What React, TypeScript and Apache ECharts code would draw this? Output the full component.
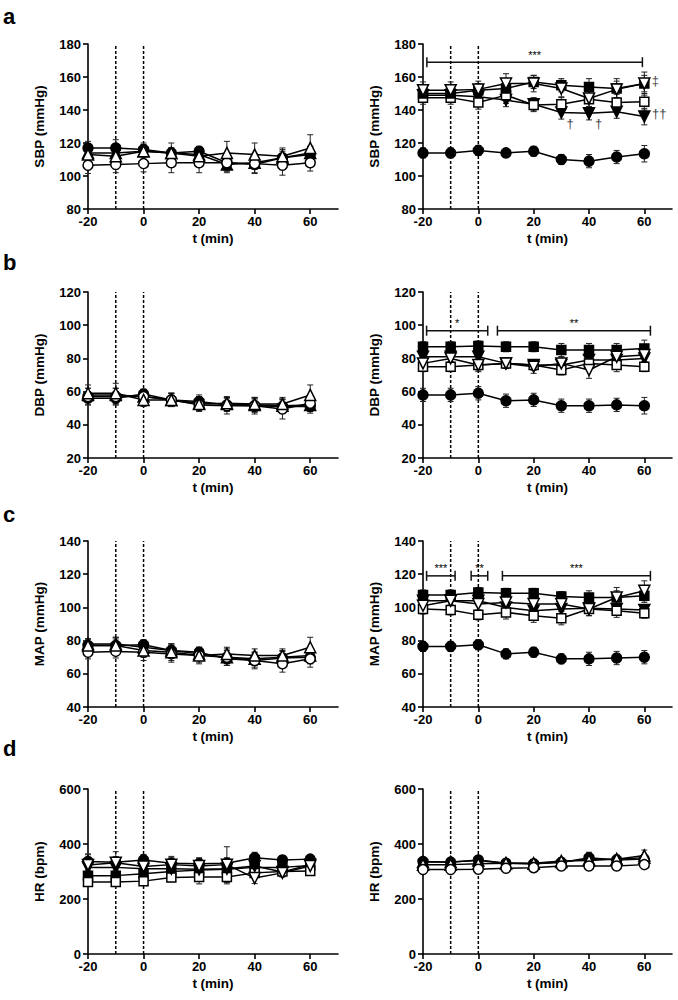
import React, { useEffect, useRef } from "react";
import * as echarts from "echarts";

const T = [-20, -10, 0, 10, 20, 30, 40, 50, 60];
const X_TICKS = [-20, 0, 20, 40, 60];
const MARKER_LINES = [-10, 0];

// a – SBP, left
const aL_fc = [117, 117, 116, 114, 115, 108, 107, 111, 113];
const aL_fcErr = [4, 5, 4, 3, 3, 5, 5, 5, 5];
const aL_oc = [106.5, 107, 107.5, 108, 108, 108, 107.5, 106.5, 108];
const aL_ocErr = [5, 5, 5, 6, 6, 6, 6, 6, 5];
const aL_ft = [114, 114, 115, 114, 113, 107, 108, 111, 114];
const aL_ftErr = [4, 4, 3, 3, 3, 4, 4, 4, 4];
const aL_ot = [113, 112, 115, 114, 112, 114, 113, 112, 117];
const aL_otErr = [5, 6, 4, 6, 3, 7, 7, 5, 8];
// a – SBP, right
const aR_fc = [114, 114, 115.5, 114, 115, 110, 109, 111.5, 113.5];
const aR_fcErr = [3, 3, 3, 2, 3, 3, 4, 4, 5];
const aR_fs = [150, 150, 152, 153, 157, 155, 154, 153, 156];
const aR_fsErr = [4, 4, 4, 4, 4, 4, 5, 6, 5];
const aR_os = [147.5, 147.5, 144.5, 149, 143, 143.5, 146.5, 144.5, 145];
const aR_osErr = [4, 4, 4, 5, 4, 4, 5, 5, 5];
const aR_fdt = [149, 149, 148, 146, 143.5, 138.5, 138, 139, 136];
const aR_fdtErr = [4, 4, 4, 4, 4, 4, 4, 4, 5];
const aR_odt = [152, 152, 152.5, 156, 156, 153, 147, 152.5, 156];
const aR_odtErr = [5, 5, 5, 6, 5, 5, 5, 5, 7];

// b – DBP, left
const bL_fc = [56, 56, 58.5, 55, 54, 52, 51.5, 51, 51];
const bL_fcErr = [4, 4, 3, 4, 4, 4, 4, 4, 4];
const bL_oc = [57, 57, 57, 55, 52, 51.5, 51.5, 49.5, 53];
const bL_ocErr = [5, 5, 4, 4, 4, 5, 5, 6, 4];
const bL_ft = [58, 58, 57, 55, 53, 52.5, 52, 51.5, 52];
const bL_ftErr = [4, 4, 4, 4, 4, 4, 4, 4, 4];
const bL_ot = [59, 59, 55, 55, 52.5, 53, 52.5, 52.5, 58];
const bL_otErr = [5, 6, 4, 4, 4, 4, 4, 4, 6];
// b – DBP, right
const bR_fc = [58, 58, 59, 54.5, 55, 51.5, 51.5, 52, 51.5];
const bR_fcErr = [4, 4, 4, 4, 4, 4, 4, 4, 5];
const bR_fs = [87, 87, 87.5, 87, 87, 85, 85, 85, 86];
const bR_fsErr = [3, 3, 3, 3, 3, 4, 4, 4, 5];
const bR_os = [75, 75, 76, 77, 76, 73, 77, 76, 75];
const bR_osErr = [3, 3, 3, 3, 3, 3, 4, 4, 3];
const bR_fdt = [81, 81, 81, 77, 76, 76, 79, 79, 80];
const bR_fdtErr = [3, 3, 3, 3, 3, 3, 3, 3, 3];
const bR_odt = [77, 80, 76, 77, 75, 77, 73, 81, 82];
const bR_odtErr = [4, 4, 4, 3, 4, 4, 5, 4, 4];

// c – MAP, left
const cL_fc = [77, 77, 77.5, 74, 73, 69, 68, 69.5, 70];
const cL_fcErr = [4, 4, 3, 4, 3, 4, 4, 4, 4];
const cL_oc = [73, 73.5, 73, 72, 71, 70, 68, 66, 69];
const cL_ocErr = [4, 4, 5, 5, 5, 5, 5, 5, 5];
const cL_ft = [78, 78, 76, 74, 72, 70, 69, 70, 71];
const cL_ftErr = [3, 4, 3, 4, 3, 4, 4, 4, 4];
const cL_ot = [77, 77, 74, 73, 71, 72, 71, 71, 76];
const cL_otErr = [4, 5, 4, 5, 4, 4, 4, 4, 6];
// c – MAP, right
const cR_fc = [76.5, 76.5, 77.5, 72, 73, 69, 69, 69.5, 70];
const cR_fcErr = [3, 3, 3, 3, 3, 3, 4, 4, 4];
const cR_fs = [107.5, 107.5, 109, 108.5, 108.5, 106.5, 106, 106, 107];
const cR_fsErr = [3, 3, 3, 3, 3, 3, 4, 4, 4];
const cR_os = [99, 98.5, 95.5, 97, 95, 93.5, 99, 98, 96.5];
const cR_osErr = [3, 3, 3, 4, 4, 4, 4, 4, 3];
const cR_fdt = [104, 104, 104, 100, 98, 99, 99.5, 99, 98.5];
const cR_fdtErr = [3, 3, 3, 3, 3, 3, 3, 3, 3];
const cR_odt = [101, 104, 102, 103, 102, 102, 99, 106, 110];
const cR_odtErr = [3, 3, 4, 4, 4, 4, 4, 6, 6];

// d – HR, left
const dL_fc = [336, 334, 342, 330, 328, 330, 350, 342, 345];
const dL_fcErr = [25, 20, 20, 20, 20, 20, 20, 15, 10];
const dL_fs = [285, 285, 292, 300, 305, 308, 315, 315, 322];
const dL_fsErr = [20, 20, 20, 15, 15, 15, 20, 15, 15];
const dL_os = [262, 262, 265, 278, 280, 280, 295, 300, 302];
const dL_osErr = [15, 15, 15, 15, 25, 25, 20, 15, 15];
const dL_fdt = [315, 315, 310, 310, 308, 310, 320, 298, 325];
const dL_fdtErr = [15, 15, 15, 15, 15, 15, 15, 15, 15];
const dL_odt = [324, 332, 318, 325, 320, 325, 276, 295, 320];
const dL_odtErr = [40, 40, 20, 30, 30, 65, 20, 15, 15];
// d – HR, right
const dR_fc = [336, 334, 342, 330, 328, 333, 350, 342, 345];
const dR_fcErr = [10, 10, 12, 10, 10, 10, 20, 12, 10];
const dR_oc = [307, 307, 308, 312, 314, 320, 320, 320, 325];
const dR_ocErr = [10, 10, 10, 10, 10, 10, 10, 10, 10];
const dR_ot = [325, 325, 328, 330, 330, 338, 340, 345, 358];
const dR_otErr = [10, 10, 10, 10, 10, 12, 15, 15, 20];
const dR_ft = [335, 335, 340, 330, 328, 335, 345, 345, 350];
const dR_ftErr = [10, 10, 10, 10, 10, 10, 10, 10, 10];

// significance brackets: [from, to, level]
const aR_brackets = [[-18.6, 59.3, 169]];
const aR_bracketLabels = ["***"];
const bR_brackets = [[-18.7, 3.4, 96.7], [6.9, 62.2, 96.7]];
const bR_bracketLabels = ["*", "**"];
const cR_brackets = [[-18.7, -8.4, 119], [-2.6, 3.4, 119], [8.7, 62.2, 119]];
const cR_bracketLabels = ["***", "**", "***"];
// daggers in a right
const aR_marks = [[64, 157.7], [65.4, 137.6], [33.2, 131.6], [43.5, 131.6]];
const aR_markLabels = ["‡", "††", "†", "†"];

const FONT = '"Liberation Sans", Arial, sans-serif';

type Ser = { d: number[]; e: number[]; sym: string; filled: boolean; rot?: number; size?: number };
const FC = (d: number[], e: number[]): Ser => ({ d, e, sym: "circle", filled: true, size: 10 });
const OC = (d: number[], e: number[]): Ser => ({ d, e, sym: "circle", filled: false, size: 10 });
const FT = (d: number[], e: number[]): Ser => ({ d, e, sym: "triangle", filled: true, size: 11 });
const OT = (d: number[], e: number[]): Ser => ({ d, e, sym: "triangle", filled: false, size: 11 });
const FS = (d: number[], e: number[]): Ser => ({ d, e, sym: "rect", filled: true, size: 9 });
const OS = (d: number[], e: number[]): Ser => ({ d, e, sym: "rect", filled: false, size: 9 });
const FDT = (d: number[], e: number[]): Ser => ({ d, e, sym: "triangle", filled: true, rot: 180, size: 11 });
const ODT = (d: number[], e: number[]): Ser => ({ d, e, sym: "triangle", filled: false, rot: 180, size: 11 });

const rows = [
  { top: 44, h: 165, min: 80, max: 180, int: 20, name: "SBP (mmHg)", letter: "a", letterTop: 5 },
  { top: 292, h: 166, min: 20, max: 120, int: 20, name: "DBP (mmHg)", letter: "b", letterTop: 251 },
  { top: 541, h: 166, min: 40, max: 140, int: 20, name: "MAP (mmHg)", letter: "c", letterTop: 503 },
  { top: 789, h: 165, min: 0, max: 600, int: 200, name: "HR (bpm)", letter: "d", letterTop: 737 },
];
const cols = [
  { left: 88, w: 250 },
  { left: 423, w: 249 },
];

const panels: { series: Ser[]; brackets?: number[][]; bLabels?: string[]; marks?: number[][]; mLabels?: string[] }[] = [
  { series: [FC(aL_fc, aL_fcErr), FT(aL_ft, aL_ftErr), OC(aL_oc, aL_ocErr), OT(aL_ot, aL_otErr)] },
  {
    series: [FC(aR_fc, aR_fcErr), FDT(aR_fdt, aR_fdtErr), OS(aR_os, aR_osErr), FS(aR_fs, aR_fsErr), ODT(aR_odt, aR_odtErr)],
    brackets: aR_brackets, bLabels: aR_bracketLabels, marks: aR_marks, mLabels: aR_markLabels,
  },
  { series: [FC(bL_fc, bL_fcErr), FT(bL_ft, bL_ftErr), OC(bL_oc, bL_ocErr), OT(bL_ot, bL_otErr)] },
  {
    series: [FC(bR_fc, bR_fcErr), FDT(bR_fdt, bR_fdtErr), OS(bR_os, bR_osErr), FS(bR_fs, bR_fsErr), ODT(bR_odt, bR_odtErr)],
    brackets: bR_brackets, bLabels: bR_bracketLabels,
  },
  { series: [FC(cL_fc, cL_fcErr), FT(cL_ft, cL_ftErr), OC(cL_oc, cL_ocErr), OT(cL_ot, cL_otErr)] },
  {
    series: [FC(cR_fc, cR_fcErr), FDT(cR_fdt, cR_fdtErr), OS(cR_os, cR_osErr), FS(cR_fs, cR_fsErr), ODT(cR_odt, cR_odtErr)],
    brackets: cR_brackets, bLabels: cR_bracketLabels,
  },
  { series: [FC(dL_fc, dL_fcErr), FS(dL_fs, dL_fsErr), OS(dL_os, dL_osErr), FDT(dL_fdt, dL_fdtErr), ODT(dL_odt, dL_odtErr)] },
  { series: [FC(dR_fc, dR_fcErr), FT(dR_ft, dR_ftErr), OT(dR_ot, dR_otErr), OC(dR_oc, dR_ocErr)] },
];

function buildOption() {
  const grid: any[] = [];
  const xAxis: any[] = [];
  const yAxis: any[] = [];
  const series: any[] = [];
  const graphic: any[] = [];

  rows.forEach((r, ri) => {
    graphic.push({
      type: "text", left: 3, top: r.letterTop,
      style: { text: r.letter, font: `bold 22px ${FONT}`, fill: "#000" },
    });
    cols.forEach((c, ci) => {
      const i = ri * 2 + ci;
      const p = panels[i];
      grid.push({ left: c.left, top: r.top, width: c.w, height: r.h, outerBoundsMode: "none" });
      xAxis.push({
        gridIndex: i, type: "value", min: -20, max: 70, interval: 20,
        name: "t (min)", nameLocation: "middle", nameGap: 22,
        nameTextStyle: { fontSize: 13.5, fontWeight: "bold", color: "#000", fontFamily: FONT },
        axisLine: { onZero: false, lineStyle: { color: "#000", width: 1.6 } },
        axisTick: { length: 5, lineStyle: { color: "#000", width: 1.6 }, customValues: X_TICKS },
        axisLabel: { customValues: X_TICKS, fontSize: 13, fontWeight: "bold", color: "#000", fontFamily: FONT, margin: 6, lineHeight: 13 },
        splitLine: { show: false },
      });
      yAxis.push({
        gridIndex: i, type: "value", min: r.min, max: r.max, interval: r.int,
        name: r.name, nameLocation: "middle", nameGap: 42,
        nameTextStyle: { fontSize: 13.5, fontWeight: "bold", color: "#000", fontFamily: FONT },
        axisLine: { show: true, onZero: false, lineStyle: { color: "#000", width: 1.6 } },
        axisTick: { show: true, length: 5, lineStyle: { color: "#000", width: 1.6 } },
        axisLabel: { fontSize: 13, fontWeight: "bold", color: "#000", fontFamily: FONT, margin: 7, lineHeight: 12 },
        splitLine: { show: false },
      });
      // dotted vertical lines
      series.push({
        type: "custom", xAxisIndex: i, yAxisIndex: i, silent: true, z: 1,
        encode: { x: 0, y: [1, 2] },
        data: MARKER_LINES.map((x) => [x, r.min, r.max]),
        renderItem: (params: any, api: any) => {
          const a = api.coord([api.value(0), api.value(1)]);
          const b = api.coord([api.value(0), api.value(2)]);
          return {
            type: "line",
            shape: { x1: a[0], y1: a[1], x2: b[0], y2: b[1] },
            style: { stroke: "#000", lineWidth: 1.5, lineDash: [3, 2] },
          };
        },
      });
      // error bars
      p.series.forEach((s) => {
        series.push({
          type: "custom", xAxisIndex: i, yAxisIndex: i, silent: true, z: 2,
          encode: { x: 0, y: 1 },
          data: T.map((t, k) => [t, s.d[k], s.e[k]]),
          renderItem: (params: any, api: any) => {
            const x = api.value(0), y = api.value(1), e = api.value(2);
            const top = api.coord([x, y + e]);
            const bot = api.coord([x, y - e]);
            const hw = 3;
            const st = { stroke: "#222", lineWidth: 1 };
            return {
              type: "group",
              children: [
                { type: "line", shape: { x1: top[0], y1: top[1], x2: bot[0], y2: bot[1] }, style: st },
                { type: "line", shape: { x1: top[0] - hw, y1: top[1], x2: top[0] + hw, y2: top[1] }, style: st },
                { type: "line", shape: { x1: bot[0] - hw, y1: bot[1], x2: bot[0] + hw, y2: bot[1] }, style: st },
              ],
            };
          },
        });
      });
      // lines + markers
      p.series.forEach((s) => {
        series.push({
          type: "line", xAxisIndex: i, yAxisIndex: i, z: 3, silent: true,
          data: T.map((t, k) => [t, s.d[k]]),
          symbol: s.sym, symbolSize: s.size, symbolRotate: s.rot || 0, showAllSymbol: true,
          lineStyle: { color: "#000", width: 1.5 },
          itemStyle: { color: s.filled ? "#000" : "#fff", borderColor: "#000", borderWidth: 1.5 },
          emphasis: { disabled: true },
        });
      });
      // significance brackets
      if (p.brackets) {
        const labels = p.bLabels || [];
        series.push({
          type: "custom", xAxisIndex: i, yAxisIndex: i, silent: true, z: 4,
          encode: { x: [0, 1], y: 2 },
          data: p.brackets,
          renderItem: (params: any, api: any) => {
            const a = api.coord([api.value(0), api.value(2)]);
            const b = api.coord([api.value(1), api.value(2)]);
            const st = { stroke: "#111", lineWidth: 1.5 };
            return {
              type: "group",
              children: [
                { type: "line", shape: { x1: a[0], y1: a[1], x2: b[0], y2: b[1] }, style: st },
                { type: "line", shape: { x1: a[0], y1: a[1] - 5, x2: a[0], y2: a[1] + 5 }, style: st },
                { type: "line", shape: { x1: b[0], y1: b[1] - 5, x2: b[0], y2: b[1] + 5 }, style: st },
                {
                  type: "text", x: (a[0] + b[0]) / 2, y: a[1] - 2,
                  style: { text: labels[params.dataIndex], fill: "#000", font: `11px ${FONT}`, align: "center", verticalAlign: "bottom" },
                },
              ],
            };
          },
        });
      }
      if (p.marks) {
        const labels = p.mLabels || [];
        series.push({
          type: "custom", xAxisIndex: i, yAxisIndex: i, silent: true, z: 4,
          encode: { x: 0, y: 1 },
          data: p.marks,
          renderItem: (params: any, api: any) => {
            const a = api.coord([api.value(0), api.value(1)]);
            return {
              type: "text", x: a[0], y: a[1],
              style: { text: labels[params.dataIndex], fill: "#444", font: `13px ${FONT}`, align: "center", verticalAlign: "middle" },
            };
          },
        });
      }
    });
  });

  return { animation: false, backgroundColor: "#fff", grid, xAxis, yAxis, series, graphic };
}

export default function App() {
  const ref = useRef<HTMLDivElement>(null);
  useEffect(() => {
    const chart = echarts.init(ref.current!, null, { renderer: "svg" });
    chart.setOption(buildOption() as any);
    return () => chart.dispose();
  }, []);
  return (
    <div
      ref={ref}
      style={{ position: "fixed", left: 0, top: 0, width: 678, height: 1000, background: "#fff" }}
    />
  );
}
